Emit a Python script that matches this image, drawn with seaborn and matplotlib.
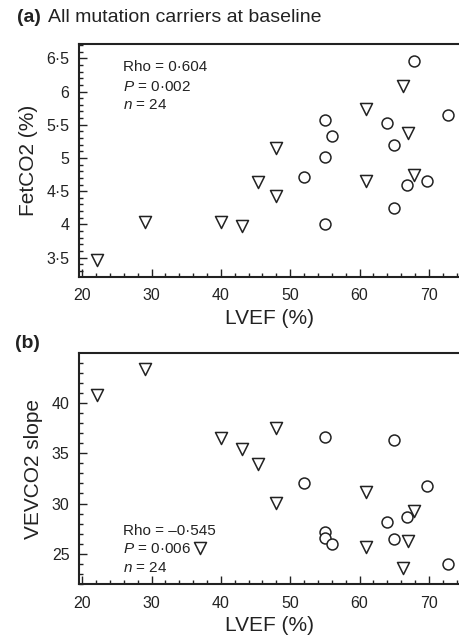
import pandas as pd
import seaborn as sns
import matplotlib.pyplot as plt
from matplotlib.ticker import MultipleLocator, FuncFormatter

# Panel (a): FetCO2 vs LVEF
a_tri_lvef = [22.1, 29.1, 40.0, 43.0, 45.4, 48.0, 48.0, 60.9, 60.9, 66.3, 67.0, 67.9]
a_tri_fet = [3.47, 4.03, 4.04, 3.98, 4.64, 4.43, 5.15, 5.73, 4.65, 6.08, 5.38, 4.75]
a_circ_lvef = [52.0, 55.0, 56.0, 55.0, 55.0, 63.9, 65.0, 65.0, 66.9, 69.8, 67.9, 72.8]
a_circ_fet = [4.71, 5.57, 5.33, 5.01, 4.01, 5.53, 5.20, 4.24, 4.60, 4.65, 6.46, 5.64]

# Panel (b): VE/VCO2 slope vs LVEF
b_tri_lvef = [22.1, 29.1, 40.0, 43.0, 45.4, 48.0, 48.0, 60.9, 60.9, 66.3, 67.0, 67.9, 37.0]
b_tri_slope = [40.8, 43.4, 36.5, 35.4, 33.9, 37.5, 30.1, 31.1, 25.7, 23.6, 26.3, 29.3, 25.6]
b_circ_lvef = [52.0, 55.0, 65.0, 69.8, 63.9, 66.9, 55.0, 55.0, 56.0, 65.0, 72.8]
b_circ_slope = [32.0, 36.6, 36.3, 31.7, 28.2, 28.7, 27.2, 26.6, 26.0, 26.5, 24.0]


def make_df(tri_x, tri_y, circ_x, circ_y):
    df_t = pd.DataFrame({'LVEF': tri_x, 'value': tri_y, 'group': 'tri'})
    df_c = pd.DataFrame({'LVEF': circ_x, 'value': circ_y, 'group': 'circ'})
    return pd.concat([df_t, df_c], ignore_index=True)


def dot_fmt(v, pos):
    return f'{v:g}'.replace('.', '\u00b7')


sns.set_style('ticks')
plt.rcParams['font.family'] = ['Liberation Sans', 'DejaVu Sans']
plt.rcParams['mathtext.fontset'] = 'custom'
plt.rcParams['mathtext.rm'] = 'Liberation Sans'
plt.rcParams['mathtext.it'] = 'Liberation Sans:italic'
plt.rcParams['text.color'] = '#222222'

W, H = 460, 638
fig = plt.figure(figsize=(W / 100, H / 100), dpi=100)
left = 79.3 / W
ax1 = fig.add_axes([left, 1 - 276.5 / H, 1 - left, (276.5 - 44) / H])
ax2 = fig.add_axes([left, 1 - 584 / H, 1 - left, (584 - 353.3) / H])

markers = {'tri': 'v', 'circ': 'o'}
sizes = {'tri': 75, 'circ': 62}

for ax, df in [(ax1, make_df(a_tri_lvef, a_tri_fet, a_circ_lvef, a_circ_fet)),
               (ax2, make_df(b_tri_lvef, b_tri_slope, b_circ_lvef, b_circ_slope))]:
    for g in ['tri', 'circ']:
        sub = df[df['group'] == g]
        sns.scatterplot(data=sub, x='LVEF', y='value', marker=markers[g], s=sizes[g],
                        color='white', edgecolor='#222222', linewidth=1.1, ax=ax,
                        legend=False, zorder=3)
    ax.set_xlim(19.57, 74.5)
    ax.xaxis.set_major_locator(MultipleLocator(10))
    ax.xaxis.set_minor_locator(MultipleLocator(2))
    ax.spines['right'].set_visible(False)
    for s in ['left', 'bottom', 'top']:
        ax.spines[s].set_linewidth(1.5)
        ax.spines[s].set_color('#222222')
    ax.tick_params(which='both', direction='in', top=False, right=False,
                   color='#222222', width=1.0, labelsize=11.5, labelcolor='#222222')
    ax.tick_params(which='major', length=6, pad=7)
    ax.tick_params(axis='x', which='major', pad=8.5)
    ax.tick_params(which='minor', length=3)
    ax.set_xlabel('LVEF (%)', fontsize=15, labelpad=4, color='#222222')

ax1.set_ylim(3.216, 6.716)
ax1.yaxis.set_major_locator(MultipleLocator(0.5))
ax1.yaxis.set_minor_locator(MultipleLocator(0.1))
ax1.yaxis.set_major_formatter(FuncFormatter(dot_fmt))
ax1.set_ylabel('FetCO2 (%)', fontsize=15, labelpad=6, color='#222222')

ax2.set_ylim(22.0, 44.93)
ax2.yaxis.set_major_locator(MultipleLocator(5))
ax2.yaxis.set_minor_locator(MultipleLocator(1))
ax2.set_ylabel('VEVCO2 slope', fontsize=15, labelpad=6, color='#222222')

# panel titles
fig.text(17 / W, 1 - 17 / H, '(a)', fontsize=14, fontweight='bold', va='center')
fig.text(48 / W, 1 - 17 / H, 'All mutation carriers at baseline', fontsize=14, va='center')
fig.text(15 / W, 1 - 344 / H, '(b)', fontsize=14, fontweight='bold', va='center')

# statistics
fs = 11
x_txt = 123.3 / W
for y, s in [(66.7, 'Rho = 0\u00b7604'), (86.7, '$P$ = 0\u00b7002'), (105, '$n$ = 24')]:
    fig.text(x_txt, 1 - y / H, s, fontsize=fs, va='center')
for y, s in [(531, 'Rho = \u20130\u00b7545'), (549, '$P$ = 0\u00b7006'), (567.5, '$n$ = 24')]:
    fig.text(x_txt, 1 - y / H, s, fontsize=fs, va='center')

fig.savefig('out.png', dpi=100)
